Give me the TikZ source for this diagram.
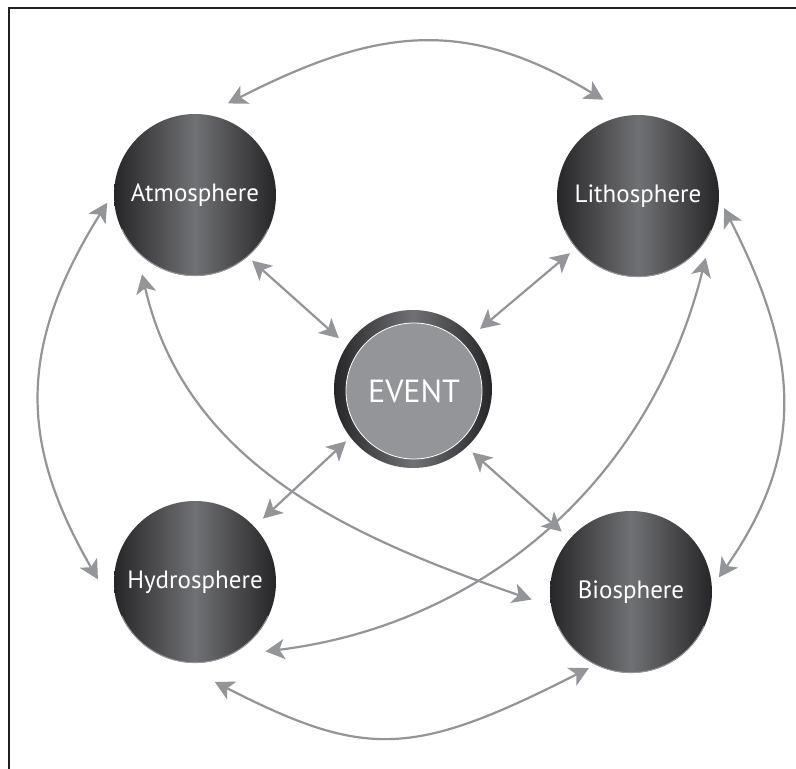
\documentclass[tikz,border=0pt]{standalone}
\usepackage{fontspec}
\setmainfont{PT Sans}
\usetikzlibrary{arrows.meta}
\definecolor{sphDark}{RGB}{38,37,39}
\definecolor{sphLight}{RGB}{112,113,116}
\definecolor{rimC}{RGB}{150,150,153}
\definecolor{linkGray}{RGB}{147,149,152}
\definecolor{frameC}{RGB}{35,31,32}
\begin{document}
\begin{tikzpicture}[x=1pt,y=1pt,
  sphere/.style={circle, minimum size=162pt, inner sep=0pt, outer sep=6pt,
    left color=sphDark, right color=sphDark, middle color=sphLight,
    text=white, font=\fontsize{25}{29}\selectfont},
  evring/.style={circle, minimum size=158pt, inner sep=0pt, outer sep=6pt,
    left color=sphDark, right color=sphDark, middle color=sphLight},
  evcore/.style={circle, minimum size=136pt, inner sep=0pt, fill=linkGray,
    draw=white, line width=0.8pt, text=white, font=\fontsize{32}{36}\selectfont},
  link/.style={draw=linkGray, line width=2.2pt,
    {Stealth[length=19pt,width=20pt,inset=5pt]}-{Stealth[length=19pt,width=20pt,inset=5pt]}},
]
\useasboundingbox (0,0) rectangle (796,769);
\fill[white] (0,0) rectangle (796,769);
% frame: top and left rules only
\draw[frameC, line width=1.2pt] (9,0) -- (9,761) -- (796,761);

% spheres
\node[sphere] (atm) at (195,574) {Atmosphere};
\node[sphere] (lit) at (638,573) {Lithosphere};
\node[sphere] (hyd) at (195,187) {Hydrosphere};
\node[sphere] (bio) at (631,177) {Biosphere};
% soft light rim along the lower edge of each sphere
\foreach \s in {atm,lit,hyd,bio}
  \draw[rimC, line width=0.9pt]
    ([shift={(205:80.6)}]\s.center) arc[start angle=205, end angle=335, radius=80.6];

% central event
\node[evring] (ev) at (413,380) {};
\node[evcore] (evc) at (414,378) {EVENT};

% outer ring of links
\draw[link, shorten <=15pt, shorten >=21pt]
  (atm.77.8) to[out=27, in=149, looseness=1.15] (lit.101.4);
\draw[link, shorten <=2pt, shorten >=24pt]
  (atm.184) to[out=238, in=120, looseness=1.13] (hyd.192.2);
\draw[link, shorten <=0pt, shorten >=3pt]
  (lit.-8) to[out=-63, in=55, looseness=1.1] (bio.8.1);
\draw[link, shorten <=29pt, shorten >=0pt]
  (hyd.266.9) to[out=-27, in=207, looseness=1.27] (bio.241.4);

% diagonal crossing links
\draw[link, shorten <=13pt, shorten >=14pt]
  (atm.230.9) to[out=-77, in=161, looseness=1] (bio.188.2);
\draw[link, shorten <=11pt, shorten >=22pt]
  (lit.-36.7) to[out=256, in=7, looseness=1] (hyd.-56.7);

% links to the event
\draw[link, shorten <=0pt, shorten >=5pt] (atm.-49.8) -- (ev.146.3);
\draw[link, shorten <=2pt, shorten >=5pt] (lit.220) -- (ev.42.7);
\draw[link, shorten <=6pt, shorten >=0pt] (hyd.43.7) -- (ev.218);
\draw[link, shorten <=5pt, shorten >=2pt] (bio.139.4) -- (ev.-47.3);
\end{tikzpicture}
\end{document}
